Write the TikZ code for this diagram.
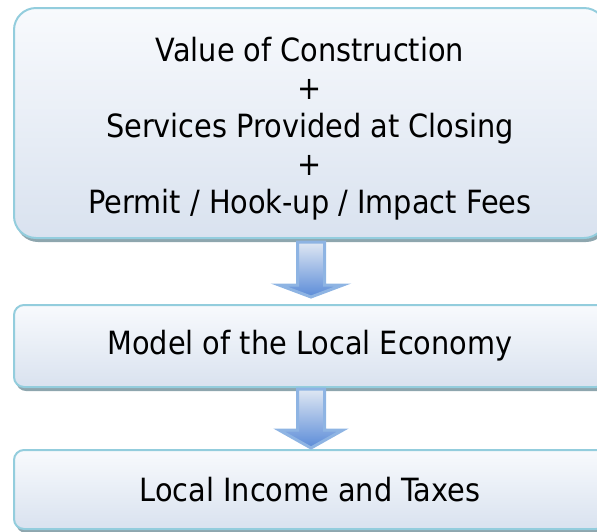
\documentclass[tikz,border=0pt]{standalone}
\usepackage{fontspec}
\setmainfont{DejaVu Sans Condensed}
\usetikzlibrary{shadows,calc}
\definecolor{boxborder}{HTML}{93CDDD}
\definecolor{boxtop}{HTML}{F8FAFD}
\definecolor{boxbottom}{HTML}{D9E2EF}
\definecolor{shadowgray}{HTML}{8EA6AE}
\definecolor{arrowborder}{HTML}{8EB4E3}
\definecolor{arrowtop}{HTML}{E0E8F3}
\definecolor{arrowbottom}{HTML}{5A8BD8}
\tikzset{
  stagebox/.style={draw=boxborder, line width=2pt, top color=boxtop, bottom color=boxbottom,
    minimum width=592pt, inner sep=0pt, align=center,
    font=\fontsize{32}{38}\selectfont,
    drop shadow={shadow xshift=2pt, shadow yshift=-4pt, fill=shadowgray, opacity=1}},
  blockarrow/.style={draw=arrowborder, line width=3pt, line join=miter, top color=arrowtop, bottom color=arrowbottom}
}
\begin{document}
\begin{tikzpicture}[x=1pt,y=1pt]
\useasboundingbox (0,0) rectangle (597,-531);
\node[stagebox, minimum height=230pt, rounded corners=22pt] (b1) at (310,-123)
  {\raisebox{-13pt}[0pt][0pt]{\begin{tabular}{@{}c@{}}Value of Construction\\+\\Services Provided at Closing\\+\\Permit / Hook-up / Impact Fees\end{tabular}}};
\node[stagebox, minimum height=82pt, rounded corners=10pt] (b2) at (310,-346)
  {Model of the Local Economy};
\node[stagebox, minimum height=79pt, rounded corners=10pt] (b3) at (310,-489.5)
  {Local Income and Taxes};
\path[blockarrow] let \p1=(b1.south), \p2=(b2.north) in
  (\x1-12.5,\y1-3) -- (\x1+14.5,\y1-3) -- (\x1+14.5,\y2+19) -- (\x1+33,\y2+19)
  -- (\x1+1,\y2+7) -- (\x1-31,\y2+19) -- (\x1-12.5,\y2+19) -- cycle;
\path[blockarrow] let \p1=(b2.south), \p2=(b3.north) in
  (\x1-12.5,\y1-1) -- (\x1+14.5,\y1-1) -- (\x1+14.5,\y2+19) -- (\x1+33,\y2+19)
  -- (\x1+1,\y2+1) -- (\x1-31,\y2+19) -- (\x1-12.5,\y2+19) -- cycle;
\end{tikzpicture}
\end{document}
